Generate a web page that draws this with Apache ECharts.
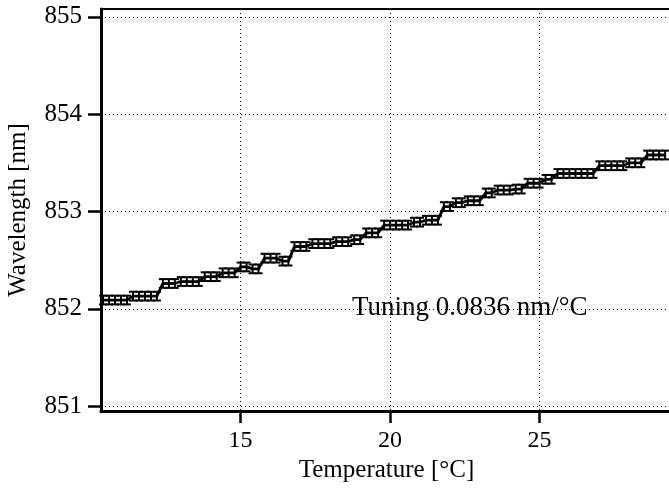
<!DOCTYPE html>
<html>
<head>
<meta charset="utf-8">
<script src="https://cdn.jsdelivr.net/npm/echarts@6/dist/echarts.min.js"></script>
<style>
html,body{margin:0;padding:0;background:#fff;}
#chart{width:669px;height:493px;}
</style>
</head>
<body>
<div id="chart"></div>
<script>
// Temperature [°C]
var temperatures = [
  10.4,10.6,10.8,11.0,11.2, 11.4,11.6,11.8,12.0,12.2, 12.4,12.6,12.8, 13.0,13.2,13.4,13.6,
  13.8,14.0,14.2, 14.4,14.6,14.8, 15.0,15.2, 15.4,15.6, 15.8,16.0,16.2, 16.4,16.6,
  16.8,17.0,17.2, 17.4,17.6,17.8,18.0, 18.2,18.4,18.6, 18.8,19.0, 19.2,19.4,19.6,
  19.8,20.0,20.2,20.4,20.6, 20.8,21.0, 21.2,21.4,21.6, 21.8,22.0, 22.2,22.4,
  22.6,22.8,23.0, 23.2,23.4, 23.6,23.8,24.0, 24.2,24.4, 24.6,24.8,25.0, 25.2,25.4,
  25.6,25.8,26.0,26.2,26.4,26.6,26.8, 27.0,27.2,27.4,27.6,27.8, 28.0,28.2,28.4,
  28.6,28.8,29.0,29.2
];
// Wavelength [nm]
var wavelengths = [
  852.09,852.09,852.09,852.09,852.09, 852.13,852.13,852.13,852.13,852.13, 852.26,852.26,852.26, 852.28,852.28,852.28,852.28,
  852.33,852.33,852.33, 852.37,852.37,852.37, 852.43,852.43, 852.41,852.41, 852.52,852.52,852.52, 852.49,852.49,
  852.64,852.64,852.64, 852.67,852.67,852.67,852.67, 852.69,852.69,852.69, 852.71,852.71, 852.78,852.78,852.78,
  852.86,852.86,852.86,852.86,852.86, 852.89,852.89, 852.91,852.91,852.91, 853.05,853.05, 853.09,853.09,
  853.11,853.11,853.11, 853.19,853.19, 853.22,853.22,853.22, 853.23,853.23, 853.29,853.29,853.29, 853.33,853.33,
  853.39,853.39,853.39,853.39,853.39,853.39,853.39, 853.47,853.47,853.47,853.47,853.47, 853.50,853.50,853.50,
  853.58,853.58,853.58,853.58
];
// error (± nm)
var errors = wavelengths.map(function(){ return 0.045; });

var xTicks = [15, 20, 25];
var yTicks = [851, 852, 853, 854, 855];

var annotationText = 'Tuning 0.0836 nm/°C';

var lineData = temperatures.map(function(t, i){ return [t, wavelengths[i]]; });
var errData = temperatures.map(function(t, i){ return [t, wavelengths[i] - errors[i], wavelengths[i] + errors[i]]; });

var serif = 'Liberation Serif';
var chart = echarts.init(document.getElementById('chart'), null, {renderer: 'canvas'});

chart.setOption({
  animation: false,
  backgroundColor: '#fff',
  grid: {
    left: 101, right: -3, top: 9, bottom: 82,
    outerBoundsMode: 'none', containLabel: false,
    show: true, borderColor: '#000', borderWidth: 2, backgroundColor: 'transparent'
  },
  xAxis: {
    type: 'value', min: 10.33, max: 29.43,
    name: 'Temperature [°C]', nameLocation: 'middle', nameGap: 43,
    nameTextStyle: {fontFamily: serif, fontSize: 25, color: '#000'},
    axisLine: {show: true, onZero: false, lineStyle: {color: '#000', width: 3}},
    axisTick: {show: true, inside: false, length: 12, customValues: xTicks, lineStyle: {color: '#000', width: 2.5}},
    axisLabel: {show: true, margin: 18, customValues: xTicks, fontFamily: serif, fontSize: 24, color: '#000'},
    splitLine: {show: true, lineStyle: {color: '#000', width: 1, type: [1, 3]}}
  },
  yAxis: {
    type: 'value', min: 850.95, max: 855.08,
    name: 'Wavelength [nm]', nameLocation: 'middle', nameGap: 70, nameRotate: 90,
    nameTextStyle: {fontFamily: serif, fontSize: 25, color: '#000'},
    axisLine: {show: true, onZero: false, lineStyle: {color: '#000', width: 3}},
    axisTick: {show: true, inside: false, length: 13, customValues: yTicks, lineStyle: {color: '#000', width: 2.5}},
    axisLabel: {show: true, margin: 19, customValues: yTicks, fontFamily: serif, fontSize: 25, color: '#000'},
    splitLine: {show: true, lineStyle: {color: '#000', width: 1, type: [1, 3]}}
  },
  series: [
    {
      type: 'line', data: lineData, showSymbol: false, symbol: 'none',
      lineStyle: {color: '#000', width: 2.8}, z: 3
    },
    {
      type: 'custom', data: errData, z: 4,
      encode: {x: 0, y: [1, 2]},
      renderItem: function(params, api){
        var x = api.value(0);
        var lo = api.coord([x, api.value(1)]);
        var hi = api.coord([x, api.value(2)]);
        var w = 4;
        var st = {stroke: '#000', lineWidth: 2};
        return {
          type: 'group',
          children: [
            {type: 'line', shape: {x1: lo[0], y1: lo[1], x2: hi[0], y2: hi[1]}, style: st},
            {type: 'line', shape: {x1: lo[0]-w, y1: lo[1], x2: lo[0]+w, y2: lo[1]}, style: st},
            {type: 'line', shape: {x1: hi[0]-w, y1: hi[1], x2: hi[0]+w, y2: hi[1]}, style: st}
          ]
        };
      }
    }
  ],
  graphic: [
    {type: 'text', left: 352, top: 294, silent: true,
     style: {text: annotationText, fontFamily: serif, fontSize: 27, fill: '#000'}}
  ]
});
</script>
</body>
</html>
